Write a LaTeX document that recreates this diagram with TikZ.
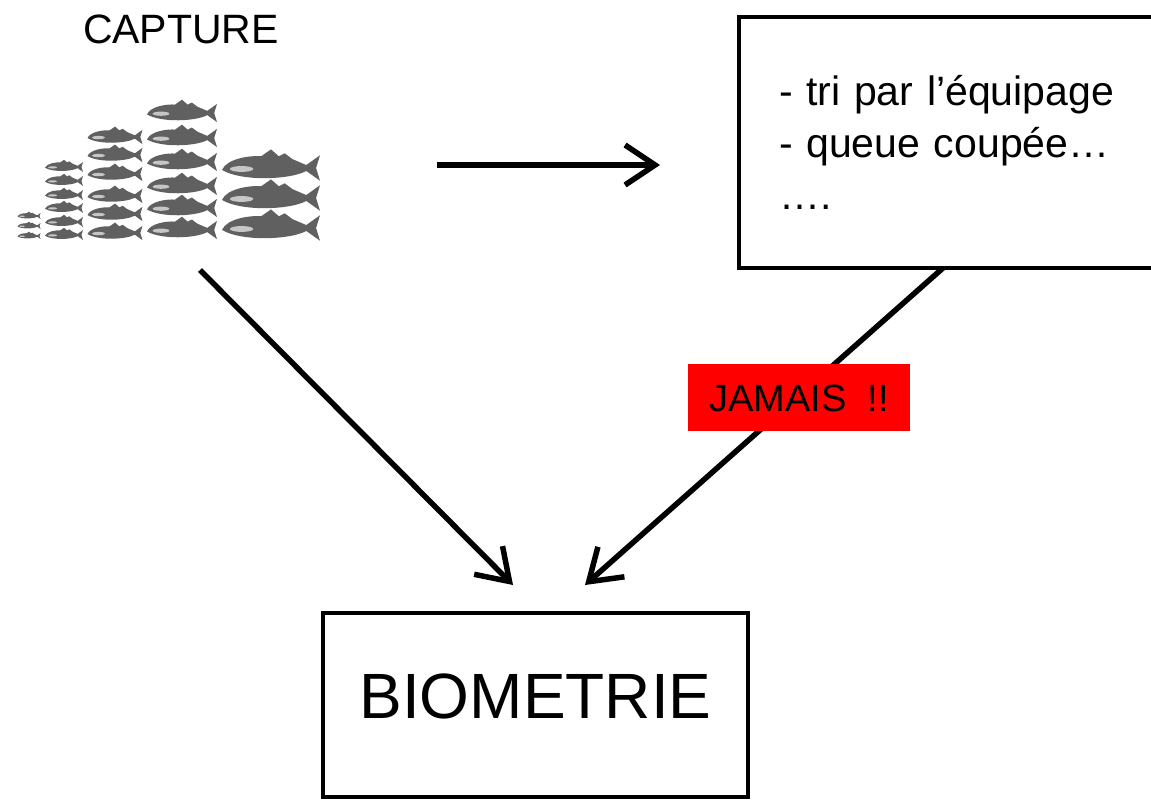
\documentclass[tikz,border=0pt]{standalone}
\usepackage{fontspec}
\setmainfont{Liberation Sans}
\usetikzlibrary{arrows.meta,calc,positioning}
\tikzstyle{boite}=[draw=black,line width=4pt,inner sep=0pt]
\tikzstyle{fleche}=[-{Straight Barb[length=30pt,width=40pt]},draw=black,line width=5.5pt]
\tikzset{poisson/.pic={
	\fill[gray!75!black] (-0.5,0.02) .. controls (-0.45,-0.1) and (-0.2,-0.13) .. (-0.1,-0.12) -- (0,-0.19) -- (0.08,-0.12) -- (0.14,-0.15) -- (0.22,-0.09) .. controls (0.28,-0.06) .. (0.36,-0.03) -- (0.5,-0.13) -- (0.46,0) -- (0.5,0.13) -- (0.36,0.03) .. controls (0.2,0.12) and (-0.3,0.14) .. (-0.5,0.02) -- cycle;
	\fill[gray!45] (-0.3,0.01) ellipse (0.12 and 0.03);
}}
\begin{document}
\begin{tikzpicture}[x=1pt,y=-1pt]
\useasboundingbox[fill=white] (0,0) rectangle (1151,800);
% banc de poissons, par colonnes
\foreach \y in {216,226,236} \pic[scale=23] at (29,\y) {poisson};
\foreach \y in {167,181,195,208,222,235} \pic[scale=38] at (64,\y) {poisson};
\foreach \y in {137,155,174,196,214,233} \pic[scale=55] at (115,\y) {poisson};
\foreach \y in {113,138,162,186,208,230} \pic[scale=70] at (182,\y) {poisson};
\foreach \y in {168,198,228} \pic[scale=98] at (271,\y) {poisson};
\node[font=\fontsize{41}{48}\selectfont] (capture) at (181,29) {CAPTURE};
\coordinate (banc) at (200,270);
% boites
\node[boite,minimum width=426,minimum height=251,text width=346,inner xsep=40,align=left,
	font=\fontsize{41}{52}\selectfont] (tri) at (952,142.5)
	{- tri par l'équipage\\- queue coupée…\\….};
\node[boite,minimum width=425,minimum height=184,font=\fontsize{64}{70}\selectfont] (biometrie) at (535.5,705)
	{\raisebox{17pt}{BIOMETRIE}};
% fleches
\coordinate (tri-g) at (437,165);
\coordinate (tri-d) at (660,165);
\coordinate (fin1) at (513,585);
\coordinate (fin2) at (585,585);
\coordinate (depart) at (943,268);
\draw[fleche] (tri-g) -- (tri-d);
\draw[fleche] (banc) -- (fin1);
\draw[fleche] (depart) -- (fin2) node[pos=0.41,xshift=3pt,fill=red,minimum width=222,minimum height=67,
	font=\fontsize{38}{44}\selectfont] (jamais) {JAMAIS~~!!};
\end{tikzpicture}
\end{document}
